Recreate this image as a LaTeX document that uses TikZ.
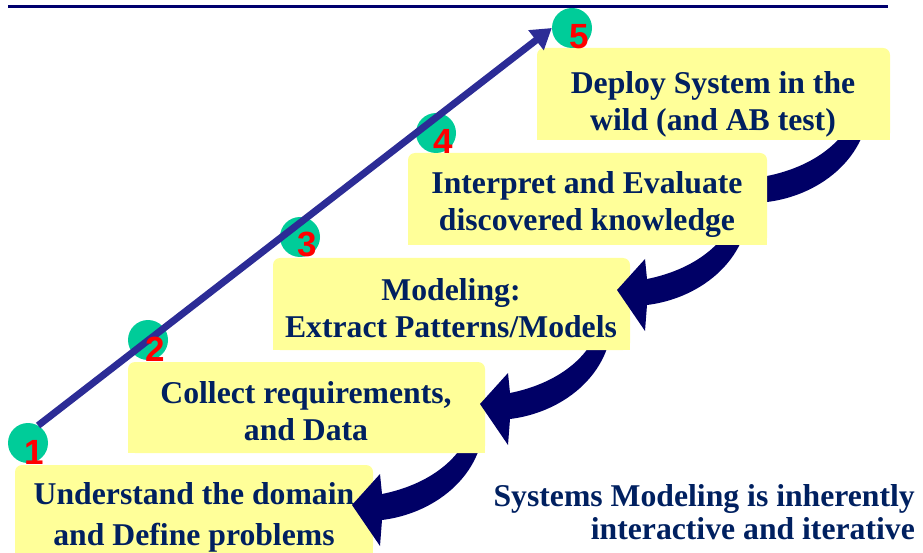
\documentclass[tikz,border=0pt]{standalone}
\usepackage{fontspec}
\setmainfont{Liberation Serif}
\newfontfamily\digitfont{Liberation Sans}
\usetikzlibrary{arrows.meta,calc}

\definecolor{boxfill}{RGB}{255,255,153}
\definecolor{textnavy}{RGB}{0,32,96}
\definecolor{arrownavy}{RGB}{0,0,102}
\definecolor{rulenavy}{RGB}{0,0,110}
\definecolor{stepgreen}{RGB}{0,204,153}
\definecolor{progblue}{RGB}{44,44,150}

\tikzset{
  stagetext/.style={text=textnavy, font=\bfseries\fontsize{31.7}{37}\selectfont,
                    align=center, inner sep=0pt},
  stagebg/.style={fill=boxfill},
  stepdot/.style={circle, fill=stepgreen, minimum size=40pt, inner sep=0pt},
  stepnum/.style={text=red, font=\digitfont\bfseries\fontsize{35}{35}\selectfont,
                  inner sep=0pt},
  notetext/.style={text=textnavy, font=\bfseries\fontsize{31.7}{33}\selectfont,
                   align=right, inner sep=0pt},
  % thick curved block arrow, tip at the origin, body rising to the upper right
  backarrow/.pic={
    \fill[arrownavy] (0,0) -- (28,-31) -- (30,-11)
      .. controls (70,-19) and (104,-40) .. (117,-72) -- (117,-95) -- (131,-95)
      -- (131,-72) .. controls (124,-24) and (79,9) .. (30,15) -- (28,41) -- cycle;
  },
}

% yellow stage panel: rounded top corners, square bottom corners
\newcommand\stagepanel[4]{%
  \fill[stagebg, rounded corners=7pt] (#1,#2) rectangle (#3,#4);
  \fill[stagebg] (#1,{(#2+#4)/2}) rectangle (#3,#4);}

\begin{document}
\begin{tikzpicture}[x=1pt, y=-1pt]
\useasboundingbox (0,0) rectangle (923,553);

% rule across the top
\draw[rulenavy, line width=3pt] (8,7) -- (888,7);

% stages, each return arrow lying on the stage below it and under the one above
\pic at (737,187) {backarrow};

\stagepanel{15}{465}{373}{553}
\node[stagetext, font=\bfseries\fontsize{31.7}{41}\selectfont] (s1) at (194,517)
  {Understand the domain\\and Define problems};
\pic at (352,505) {backarrow};

\stagepanel{128}{362}{485}{453}
\node[stagetext] (s2) at (306,411) {Collect requirements,\\and Data};
\pic at (480,404) {backarrow};

\stagepanel{273}{258}{630}{350}
\node[stagetext] (s3) at (451,308) {Modeling:\\Extract Patterns/Models};
\pic at (617,290) {backarrow};

\stagepanel{408}{153}{767}{245}
\node[stagetext] (s4) at (587,205) {Interpret and Evaluate\\discovered knowledge};

\stagepanel{537}{48}{890}{140}
\node[stagetext] (s5) at (713,104) {Deploy System in the\\wild (and AB test)};

% numbered milestones
\node[stepdot] (c1) at (28,443) {};
\node[stepdot] (c2) at (148,340) {};
\node[stepdot] (c3) at (300,237) {};
\node[stepdot] (c4) at (436,133) {};
\node[stepdot] (c5) at (572,28) {};

\draw[progblue, line width=7pt, -{Triangle[length=20pt,width=24pt]}]
  (c1.60) -- (c5.west);

\node[stepnum] (n1) at ($(c1)+(6,9)$) {1};
\node[stepnum] (n2) at ($(c2)+(7,9)$) {2};
\node[stepnum] (n3) at ($(c3)+(7,7)$) {3};
\node[stepnum] (n4) at ($(c4)+(7,8)$) {4};
\node[stepnum] (n5) at ($(c5)+(7,9)$) {5};

% remark at the lower right
\node[notetext, anchor=east] (note) at (915,512)
  {Systems Modeling is inherently\\interactive and iterative};
\end{tikzpicture}
\end{document}
